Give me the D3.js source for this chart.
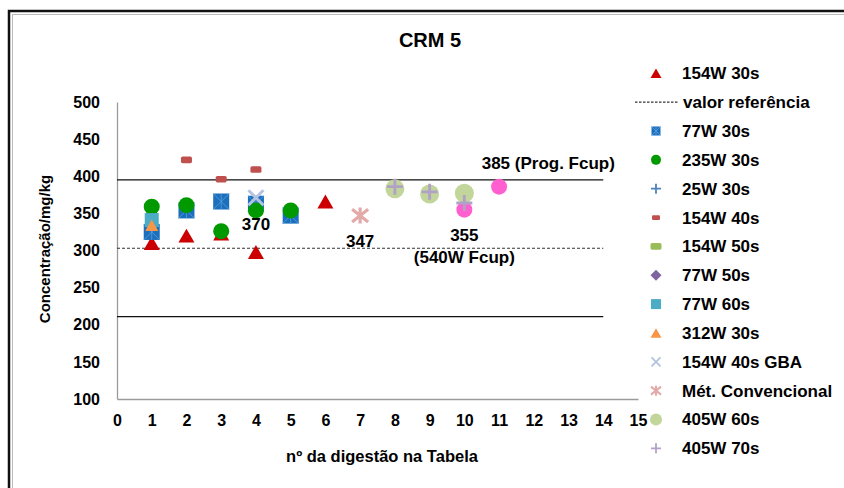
<!DOCTYPE html>
<html>
<head>
<meta charset="utf-8">
<script src="https://cdn.jsdelivr.net/npm/d3@7"></script>
<style>
  body { margin: 0; background: #fff; }
  svg { display: block; font-family: "Liberation Sans", Arial, sans-serif; }
  .axis text { font-size: 16px; font-weight: bold; fill: #000; }
  .axis path { stroke: #9a9a9a; stroke-width: 1.3; }
</style>
</head>
<body>
<svg width="844" height="488"></svg>
<script>
// tick labels
const xTicks = d3.range(0, 16);
const yTicks = [100, 150, 200, 250, 300, 350, 400, 450, 500];

// reference value and limits (mg/kg)
const refValue = 303;
const refLimits = [395, 211];

// series: [nº da digestão, concentração]
const s154W30s = [[1, 310], [2, 320], [3, 323], [4, 298], [5, 347], [6, 366]];
const s77W30s = [[1, 325], [2, 354], [3, 366], [4, 363], [5, 347]];
const s235W30s = [[1, 359], [2, 361], [3, 326], [4, 354], [5, 354]];
const s25W30s = [];
const s154W40s = [[1, 346], [2, 422], [3, 396], [4, 409]];
const s154W50s = [];
const s77W50s = [];
const s77W60s = [[1, 341]];
const s312W30s = [[1, 334]];
const s154W40sGBA = [[4, 371]];
const sMetConv = [[7, 347]];
const sFcup = [[10, 355], [11, 386]];
const s405W60s = [[8, 383], [9, 376], [10, 377]];
const s405W70s = [[8, 386], [9, 379], [10, 364]];

// text labels on the plot: [x, y, text]
const notes = [[4, 336, "370"], [7, 313, "347"], [10, 321, "355"], [10, 291, "(540W Fcup)"]];
const noteFcup = [10.5, 418, "385 (Prog. Fcup)"];

const svg = d3.select("svg");

//frame around the whole chart
svg.append("rect").attr("x", 9).attr("y", 11).attr("width", 900).attr("height", 600)
  .attr("fill", "none").attr("stroke", "#111").attr("stroke-width", 2.5);
svg.append("rect").attr("x", 12.5).attr("y", 14.5).attr("width", 900).attr("height", 600)
  .attr("fill", "none").attr("stroke", "#bbb").attr("stroke-width", 1);

const x = d3.scaleLinear().domain([0, 15]).range([117, 638]);
const y = d3.scaleLinear().domain([100, 500]).range([399, 102]);

svg.append("text").attr("x", 430).attr("y", 47).attr("text-anchor", "middle")
  .style("font-size", "20px").style("font-weight", "bold").text("CRM 5");

svg.append("g").attr("class", "axis").attr("transform", "translate(0,399)")
  .call(d3.axisBottom(x).tickValues(xTicks).tickSize(0).tickPadding(16));
svg.append("g").attr("class", "axis").attr("transform", "translate(117,0)")
  .call(d3.axisLeft(y).tickValues(yTicks).tickSize(0).tickPadding(17));

svg.append("text").attr("transform", "translate(50,249) rotate(-90)").attr("text-anchor", "middle")
  .style("font-size", "15px").style("font-weight", "bold").text("Concentração/mg/kg");
svg.append("text").attr("x", 382).attr("y", 462).attr("text-anchor", "middle")
  .style("font-size", "16.5px").style("font-weight", "bold").text("nº da digestão na Tabela");

// reference lines
refLimits.forEach(v => {
  svg.append("line").attr("x1", x(0)).attr("x2", x(14)).attr("y1", y(v)).attr("y2", y(v))
    .attr("stroke", "#111").attr("stroke-width", 1.3);
});
svg.append("line").attr("x1", x(0)).attr("x2", x(14)).attr("y1", y(refValue)).attr("y2", y(refValue))
  .attr("stroke", "#333").attr("stroke-width", 1.2).attr("stroke-dasharray", "3,2");

// marker painter, s = nominal width
function marker(g, type, color, s) {
  const r = s / 2;
  if (type == "triangle") {
    g.append("path").attr("d", `M0,${-r * 0.87}L${r},${r * 0.87}L${-r},${r * 0.87}Z`).attr("fill", color);
  } else if (type == "circle") {
    g.append("circle").attr("r", r).attr("fill", color);
  } else if (type == "square") {
    g.append("rect").attr("x", -r).attr("y", -r).attr("width", s).attr("height", s).attr("fill", color);
  } else if (type == "squareStar") {
    g.append("rect").attr("x", -r).attr("y", -r).attr("width", s).attr("height", s).attr("fill", color);
    g.append("path").attr("d", `M${-r},${-r}L${r},${r}M${-r},${r}L${r},${-r}M0,${-r}V${r}`)
      .attr("stroke", "#5aa0dc").attr("stroke-width", 0.8);
  } else if (type == "dash") {
    g.append("rect").attr("x", -r).attr("y", -s * 0.3).attr("width", s).attr("height", s * 0.6)
      .attr("rx", s * 0.15).attr("fill", color);
  } else if (type == "diamond") {
    g.append("path").attr("d", `M0,${-r}L${r},0L0,${r}L${-r},0Z`).attr("fill", color);
  } else if (type == "plus") {
    g.append("path").attr("d", `M${-r},0H${r}M0,${-r}V${r}`).attr("stroke", color).attr("stroke-width", s * 0.18);
  } else if (type == "x") {
    g.append("path").attr("d", `M${-r},${-r}L${r},${r}M${-r},${r}L${r},${-r}`).attr("stroke", color).attr("stroke-width", s * 0.2);
  } else if (type == "star") {
    g.append("path").attr("d", `M${-r},${-r * 0.8}L${r},${r * 0.8}M${-r},${r * 0.8}L${r},${-r * 0.8}M0,${-r}V${r}`)
      .attr("stroke", color).attr("stroke-width", s * 0.2);
  }
}

// drawing order = series order in the sheet
const series = [
  { name: "154W 30s", data: s154W30s, type: "triangle", color: "#cc0000", size: 16, ls: 11 },
  { name: "77W 30s", data: s77W30s, type: "squareStar", color: "#1c6fbd", size: 16, ls: 9 },
  { name: "235W 30s", data: s235W30s, type: "circle", color: "#009a00", size: 16, ls: 10 },
  { name: "25W 30s", data: s25W30s, type: "plus", color: "#4f81bd", size: 14, ls: 10 },
  { name: "154W 40s", data: s154W40s, type: "dash", color: "#c0504d", size: 11, ls: 8 },
  { name: "154W 50s", data: s154W50s, type: "dash", color: "#9bbb59", size: 11, ls: 11 },
  { name: "77W 50s", data: s77W50s, type: "diamond", color: "#8064a2", size: 12, ls: 11 },
  { name: "77W 60s", data: s77W60s, type: "square", color: "#4bacc6", size: 14, ls: 10 },
  { name: "312W 30s", data: s312W30s, type: "triangle", color: "#f79646", size: 13, ls: 11 },
  { name: "154W 40s GBA", data: s154W40sGBA, type: "x", color: "#b3c4e3", size: 15, ls: 9 },
  { name: "Mét. Convencional", data: sMetConv, type: "star", color: "#e2aaa8", size: 16, ls: 10 },
  { name: "Fcup", data: sFcup, type: "circle", color: "#ff5fcf", size: 16, legend: false },
  { name: "405W 60s", data: s405W60s, type: "circle", color: "#c2d69b", size: 19, ls: 12 },
  { name: "405W 70s", data: s405W70s, type: "plus", color: "#b2a1c7", size: 16, ls: 10 }
];

series.forEach(sr => {
  svg.append("g").selectAll("g").data(sr.data).join("g")
    .attr("transform", d => `translate(${x(d[0])},${y(d[1])})`)
    .each(function () { marker(d3.select(this), sr.type, sr.color, sr.size); });
});

svg.append("g").selectAll("text").data(notes).join("text")
  .attr("x", d => x(d[0])).attr("y", d => y(d[1])).attr("dy", "0.35em").attr("text-anchor", "middle")
  .style("font-size", "17px").style("font-weight", "bold").text(d => d[2]);
svg.append("text").attr("x", x(noteFcup[0])).attr("y", y(noteFcup[1])).attr("dy", "0.35em")
  .style("font-size", "17px").style("font-weight", "bold").text(noteFcup[2]);

// legend, "valor referência" sits second
const legendItems = series.filter(s => s.legend !== false).slice();
legendItems.splice(1, 0, { name: "valor referência", type: "ref" });
const lg = svg.append("g").selectAll("g").data(legendItems).join("g")
  .attr("transform", (d, i) => `translate(656,${73.3 + i * 28.85})`);
lg.each(function (d) {
  const g = d3.select(this);
  if (d.type == "ref") {
    g.append("line").attr("x1", -21).attr("x2", 22).attr("stroke", "#333").attr("stroke-width", 1.1)
      .attr("stroke-dasharray", "2.5,1.5");
  } else {
    marker(g, d.type, d.color, d.ls);
  }
});
lg.append("text").attr("x", d => d.type == "ref" ? 27 : 26).attr("dy", "0.35em")
  .style("font-size", "17px").style("font-weight", "bold").text(d => d.name);
</script>
</body>
</html>
